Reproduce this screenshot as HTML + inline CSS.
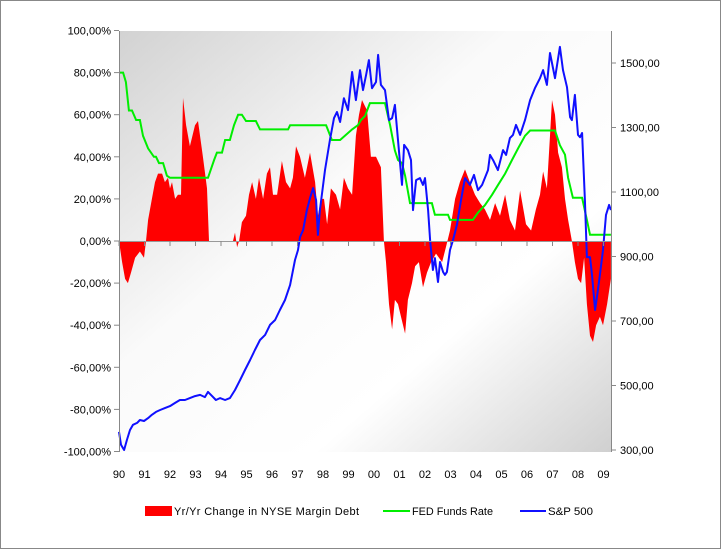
<!DOCTYPE html>
<html><head><meta charset="utf-8"><style>
html,body{margin:0;padding:0;background:#fff}
svg{display:block;font-family:"Liberation Sans",sans-serif}
</style></head><body>
<svg id="chart" width="721" height="549" viewBox="0 0 721 549">
<defs>
<linearGradient id="bg" x1="0" y1="0" x2="1" y2="1">
<stop offset="0" stop-color="#d2d2d2"/><stop offset="0.4" stop-color="#fafafa"/><stop offset="0.7" stop-color="#ffffff"/><stop offset="1" stop-color="#d0d0d0"/>
</linearGradient>
</defs>
<rect x="0.5" y="0.5" width="720" height="548" fill="#fff" stroke="#888"/>
<rect x="119" y="31" width="492" height="421" fill="url(#bg)"/>
<g id="marks"></g>
<g id="axes"></g>
<g font-size="11" fill="#000">
<rect x="145" y="506" width="27" height="10" fill="#ff0000"/>
<text x="174" y="515" textLength="185" lengthAdjust="spacing">Yr/Yr Change in NYSE Margin Debt</text>
<line x1="383" y1="511" x2="410" y2="511" stroke="#00ee00" stroke-width="2"/>
<text x="412" y="515" textLength="81" lengthAdjust="spacingAndGlyphs">FED Funds Rate</text>
<line x1="520" y1="511" x2="546" y2="511" stroke="#1010ff" stroke-width="2"/>
<text x="548" y="515" textLength="45" lengthAdjust="spacingAndGlyphs">S&amp;P 500</text>
</g>
</svg>
<script>
const marginDates=[1990.00,1990.12,1990.24,1990.35,1990.47,1990.63,1990.82,1990.98,1991.06,1991.14,1991.29,1991.41,1991.53,1991.69,1991.80,1991.92,1992.00,1992.08,1992.20,1992.31,1992.43,1992.51,1992.63,1992.78,1992.98,1993.10,1993.29,1993.45,1993.53,1994.47,1994.55,1994.63,1994.71,1994.82,1994.98,1995.10,1995.22,1995.37,1995.49,1995.65,1995.80,1995.92,1996.04,1996.20,1996.39,1996.55,1996.71,1996.82,1996.94,1997.10,1997.29,1997.49,1997.69,1997.80,1997.92,1998.04,1998.16,1998.31,1998.51,1998.67,1998.82,1998.98,1999.14,1999.29,1999.41,1999.53,1999.73,1999.88,2000.08,2000.27,2000.39,2000.47,2000.59,2000.71,2000.82,2000.94,2001.06,2001.22,2001.33,2001.49,2001.61,2001.76,2001.92,2002.08,2002.24,2002.43,2002.67,2002.82,2002.98,2003.18,2003.37,2003.57,2003.76,2003.96,2004.16,2004.35,2004.55,2004.75,2004.94,2005.14,2005.33,2005.53,2005.73,2005.96,2006.16,2006.35,2006.51,2006.63,2006.78,2006.90,2006.98,2007.10,2007.22,2007.37,2007.49,2007.61,2007.76,2007.88,2008.00,2008.12,2008.24,2008.35,2008.47,2008.59,2008.71,2008.86,2008.98,2009.14,2009.29];
const marginValues=[0,-10,-18,-20,-15,-8,-5,-8,0,10,20,28,32,32,28,30,25,28,20,22,22,68,55,45,55,57,40,25,0,0,4,-3,0,9,12,22,28,20,30,20,32,35,22,22,38,28,25,30,45,40,30,42,28,12,20,20,8,25,22,15,30,25,22,50,60,67,62,40,40,35,0,-10,-30,-42,-28,-30,-36,-44,-28,-20,-12,-10,-22,-15,-10,-6,-10,-3,5,20,28,34,28,22,18,15,10,18,12,22,10,5,24,8,5,15,22,33,25,50,67,60,42,35,20,10,0,-10,-18,-20,-8,-30,-45,-48,-40,-36,-40,-30,-18];
const fedDates=[1990.00,1990.16,1990.27,1990.39,1990.51,1990.67,1990.82,1990.94,1991.14,1991.37,1991.45,1991.57,1991.73,1991.88,1992.00,1993.49,1993.73,1993.84,1994.04,1994.16,1994.35,1994.51,1994.67,1994.82,1994.98,1995.37,1995.53,1996.63,1996.71,1998.12,1998.35,1998.67,1998.86,1999.14,1999.37,1999.49,1999.65,1999.76,1999.84,2000.43,2000.63,2000.82,2000.94,2001.10,2001.22,2001.41,2002.27,2002.39,2002.90,2002.98,2003.88,2004.08,2004.35,2004.63,2004.86,2005.14,2005.41,2005.65,2005.92,2006.12,2007.10,2007.29,2007.49,2007.61,2007.80,2008.16,2008.35,2008.47,2009.29];
const fedValues=[8.0,8.0,7.55,6.2,6.2,5.75,5.75,5.0,4.4,4.0,4.0,3.7,3.7,3.1,3.0,3.0,3.85,4.2,4.2,4.8,4.8,5.5,6.0,6.0,5.7,5.7,5.3,5.3,5.5,5.5,4.8,4.8,5.0,5.3,5.5,5.75,5.95,6.3,6.55,6.55,5.5,4.3,3.85,3.7,3.1,1.8,1.8,1.25,1.25,1.0,1.0,1.35,1.7,2.2,2.65,3.2,3.85,4.4,5.0,5.25,5.25,4.55,4.1,3.0,2.05,2.05,1.0,0.3,0.3];
const spDates=[1990.00,1990.08,1990.20,1990.31,1990.43,1990.55,1990.71,1990.82,1990.98,1991.14,1991.29,1991.45,1991.61,1991.80,1992.00,1992.20,1992.39,1992.59,1992.78,1992.98,1993.18,1993.37,1993.49,1993.65,1993.80,1993.96,1994.16,1994.35,1994.55,1994.75,1994.94,1995.14,1995.33,1995.53,1995.73,1995.92,1996.12,1996.31,1996.51,1996.71,1996.90,1997.02,1997.10,1997.22,1997.37,1997.49,1997.61,1997.73,1997.80,1997.88,1998.08,1998.27,1998.43,1998.55,1998.67,1998.82,1998.98,1999.14,1999.29,1999.45,1999.57,1999.69,1999.80,1999.92,2000.08,2000.16,2000.27,2000.43,2000.59,2000.71,2000.82,2000.94,2001.10,2001.18,2001.33,2001.45,2001.53,2001.65,2001.80,2001.92,2002.00,2002.12,2002.20,2002.31,2002.39,2002.51,2002.59,2002.71,2002.78,2002.86,2002.98,2003.10,2003.25,2003.41,2003.57,2003.76,2003.92,2004.08,2004.24,2004.47,2004.55,2004.67,2004.86,2005.06,2005.18,2005.33,2005.45,2005.57,2005.73,2005.92,2006.12,2006.31,2006.51,2006.63,2006.78,2006.90,2007.10,2007.29,2007.41,2007.57,2007.69,2007.76,2007.88,2008.00,2008.08,2008.16,2008.27,2008.35,2008.47,2008.55,2008.67,2008.78,2008.86,2008.98,2009.10,2009.22,2009.29];
const spValues=[356,316,300,331,362,378,384,393,390,399,409,418,424,430,436,446,455,455,461,467,471,464,480,467,455,461,455,461,486,517,548,579,610,641,657,688,703,734,765,812,889,920,960,982,1044,1081,1112,1075,967,1044,1168,1261,1329,1348,1317,1391,1354,1472,1385,1478,1416,1463,1509,1422,1441,1525,1432,1416,1323,1329,1370,1261,1122,1246,1230,1199,1044,1137,1143,1122,1143,1044,951,858,895,821,883,852,843,852,920,951,998,1075,1143,1122,1153,1106,1122,1168,1215,1199,1168,1230,1215,1267,1277,1308,1277,1323,1385,1422,1453,1478,1432,1531,1453,1550,1478,1425,1332,1323,1401,1277,1270,1283,1075,898,898,843,734,796,843,920,1029,1060,1044];
const leftTicks=["100,00%","80,00%","60,00%","40,00%","20,00%","0,00%","-20,00%","-40,00%","-60,00%","-80,00%","-100,00%"];
const leftTickValues=[100,80,60,40,20,0,-20,-40,-60,-80,-100];
const rightTickValues=[1500,1300,1100,900,700,500,300];
const rightTicks=["1500,00","1300,00","1100,00","900,00","700,00","500,00","300,00"];
const yearLabels=["90","91","92","93","94","95","96","97","98","99","00","01","02","03","04","05","06","07","08","09"];
const yearValues=[1990,1991,1992,1993,1994,1995,1996,1997,1998,1999,2000,2001,2002,2003,2004,2005,2006,2007,2008,2009];

const NS="http://www.w3.org/2000/svg";
const X=t=>119+(t-1990)*25.5;
const YL=v=>241-v*2.105;
const YR=v=>450-(v-300)*0.3225;
function mk(tag,attrs,parent){const e=document.createElementNS(NS,tag);for(const k in attrs)e.setAttribute(k,attrs[k]);parent.appendChild(e);return e;}
const marks=document.getElementById('marks'),axes=document.getElementById('axes');

let d=`M${X(marginDates[0])},${YL(0)}`;
marginDates.forEach((t,i)=>{d+=` L${X(t).toFixed(1)},${YL(marginValues[i]).toFixed(1)}`;});
d+=` L${X(marginDates[marginDates.length-1])},${YL(0)} Z`;
const area=mk('path',{d:d,fill:'#ff0000'},marks);



const fp=fedDates.map((t,i)=>`${X(t).toFixed(1)},${YL(fedValues[i]*10).toFixed(1)}`).join(' ');
const fl=mk('polyline',{points:fp,fill:'none',stroke:'#00ee00','stroke-width':2},marks);



const sp=spDates.map((t,i)=>`${X(t).toFixed(1)},${YR(spValues[i]).toFixed(1)}`).join(' ');
const sl=mk('polyline',{points:sp,fill:'none',stroke:'#1010ff','stroke-width':2,'stroke-linejoin':'round'},marks);



const la=mk('line',{x1:119.5,y1:31,x2:119.5,y2:452,stroke:'#888'},axes);


const ra=mk('line',{x1:611.5,y1:31,x2:611.5,y2:452,stroke:'#888'},axes);


const xa=mk('line',{x1:119,y1:241.5,x2:611,y2:241.5,stroke:'#999'},axes);



leftTickValues.forEach((v,i)=>{
  const y=YL(v);
  mk('line',{x1:114,y1:y,x2:119,y2:y,stroke:'#888'},axes);
  const t=mk('text',{x:111,y:y+4,'text-anchor':'end','font-size':11},axes);
  t.textContent=leftTicks[i];
  
  
});
rightTickValues.forEach((v,i)=>{
  const y=YR(v);
  mk('line',{x1:611,y1:y,x2:616,y2:y,stroke:'#888'},axes);
  const t=mk('text',{x:620,y:y+4,'font-size':11},axes);
  t.textContent=rightTicks[i];
  
  
});
yearValues.forEach((v,i)=>{
  const x=X(v);
  mk('line',{x1:x,y1:241,x2:x,y2:246,stroke:'#888'},axes);
  const t=mk('text',{x:x,y:478,'text-anchor':'middle','font-size':11},axes);
  t.textContent=yearLabels[i];
  
  
});
</script>
</body></html>
